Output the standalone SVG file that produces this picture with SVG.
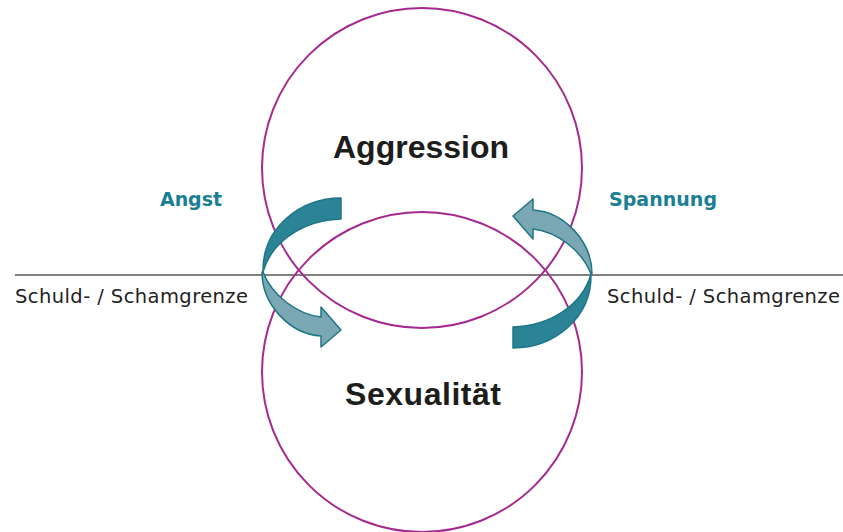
<svg xmlns="http://www.w3.org/2000/svg" width="843" height="532" viewBox="0 0 843 532">
<style>
.circ{fill:none;stroke:#a52a8f;stroke-width:2}
.dark{fill:#2a8496;stroke:#1f7587;stroke-width:1.5;stroke-linejoin:round}
.light{fill:#7aa7b4;stroke:#1f7587;stroke-width:1.5;stroke-linejoin:round}
.big{font-family:"Liberation Sans",Arial,sans-serif;font-weight:bold;font-size:32px;fill:#1d1d1b}
.lab{font-family:"DejaVu Sans",sans-serif;font-weight:bold;font-size:19px;fill:#1a7f94}
.bound{font-family:"DejaVu Sans",sans-serif;font-size:19.5px;fill:#222}
</style>
<rect width="843" height="532" fill="#fff"/>
<g id="line"><line x1="15" y1="275" x2="843" y2="275" stroke="#808080" stroke-width="2"/></g>
<g id="aggression">
<circle class="circ" cx="422" cy="168" r="160"/>
<text class="big" x="421" y="158" text-anchor="middle" textLength="176">Aggression</text>
</g>
<g id="sexualitaet">
<circle class="circ" cx="422" cy="372" r="160"/>
<text class="big" x="423" y="405" text-anchor="middle" textLength="156">Sexualität</text>
</g>
<g id="connectors">
<g id="arrow-angst">
<path class="light" d="M262,272 C262,305 290,334 321,336 L321,347 L341,330 L321,307 L321,317 C296,314 272,295 263,272 Z"/>
<path class="dark" d="M341,198 L341,219 C305,220 272,240 263,272 C262,228 300,198 341,198 Z"/>
</g>
<g id="arrow-spannung" transform="rotate(180 427 273)">
<path class="light" d="M262,272 C262,305 290,334 321,336 L321,347 L341,330 L321,307 L321,317 C296,314 272,295 263,272 Z"/>
<path class="dark" d="M341,198 L341,219 C305,220 272,240 263,272 C262,228 300,198 341,198 Z"/>
</g>
</g>
<g id="label-angst"><text class="lab" x="160" y="206" textLength="62">Angst</text></g>
<g id="label-spannung"><text class="lab" x="609" y="206" textLength="108">Spannung</text></g>
<g id="label-left"><text class="bound" x="15" y="303" textLength="233">Schuld- / Schamgrenze</text></g>
<g id="label-right"><text class="bound" x="607" y="303" textLength="233">Schuld- / Schamgrenze</text></g>
</svg>
